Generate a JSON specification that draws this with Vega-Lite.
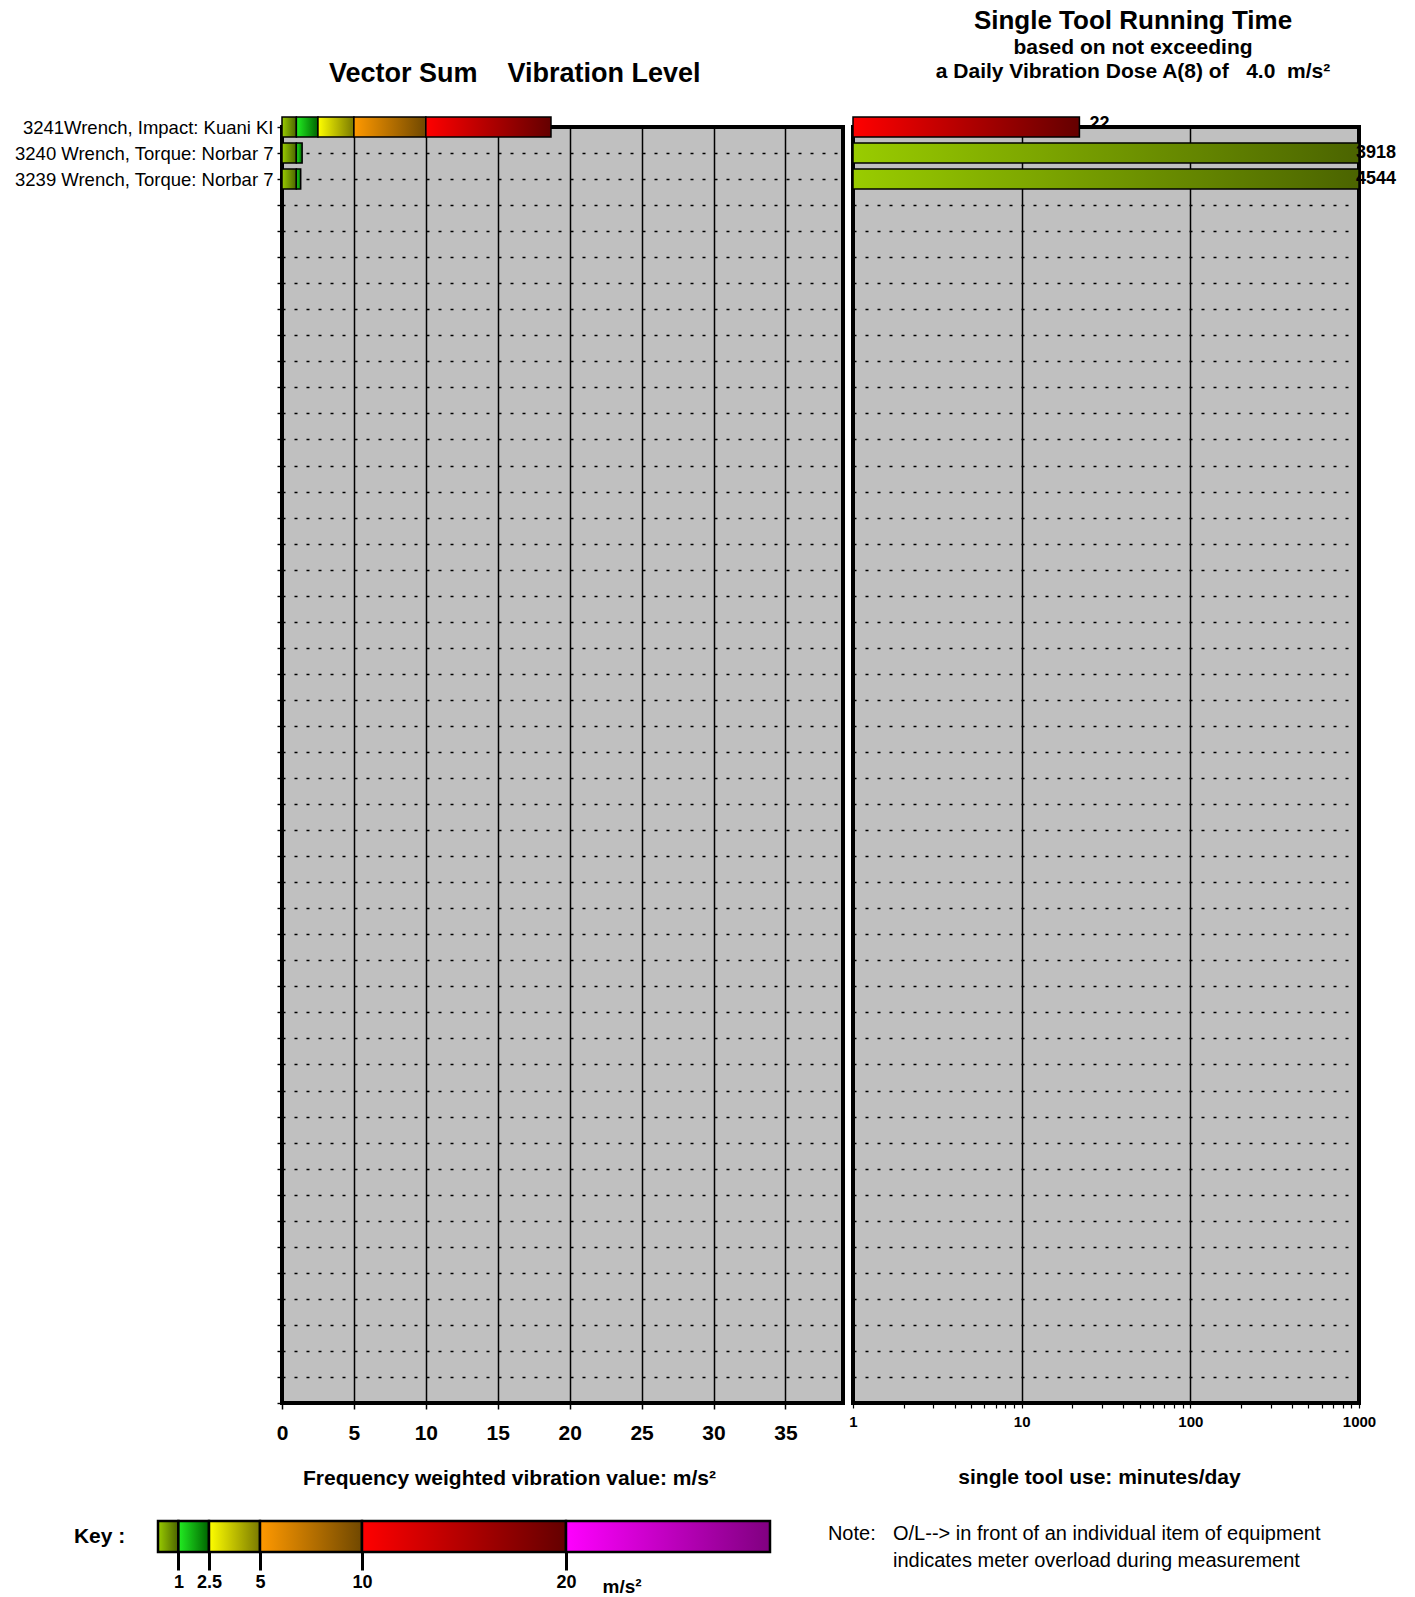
{
  "$schema": "https://vega.github.io/schema/vega-lite/v6.json",
  "background": "white",
  "padding": {"left": 12, "top": 5, "right": 5, "bottom": 2},
  "config": {
    "font": "Liberation Sans",
    "view": {"stroke": null},
    "axis": {"labelColor": "black", "titleColor": "black", "tickColor": "black", "labelFont": "Liberation Sans", "titleFont": "Liberation Sans"},
    "title": {"color": "black", "subtitleColor": "black", "font": "Liberation Sans", "subtitleFont": "Liberation Sans"}
  },
  "datasets": {
    "tools": [
      {"tool": "3241Wrench, Impact: Kuani KI", "vib": 18.7, "minutes": 22},
      {"tool": "3240 Wrench, Torque: Norbar 7", "vib": 1.4, "minutes": 3918},
      {"tool": "3239 Wrench, Torque: Norbar 7", "vib": 1.3, "minutes": 4544}
    ],
    "segments": [
      {"tool": "3241Wrench, Impact: Kuani KI", "from": 0, "to": 1},
      {"tool": "3241Wrench, Impact: Kuani KI", "from": 1, "to": 2.5},
      {"tool": "3241Wrench, Impact: Kuani KI", "from": 2.5, "to": 5},
      {"tool": "3241Wrench, Impact: Kuani KI", "from": 5, "to": 10},
      {"tool": "3241Wrench, Impact: Kuani KI", "from": 10, "to": 18.7},
      {"tool": "3240 Wrench, Torque: Norbar 7", "from": 0, "to": 1},
      {"tool": "3240 Wrench, Torque: Norbar 7", "from": 1, "to": 1.4},
      {"tool": "3239 Wrench, Torque: Norbar 7", "from": 0, "to": 1},
      {"tool": "3239 Wrench, Torque: Norbar 7", "from": 1, "to": 1.3}
    ],
    "key": [
      {"lo": 0, "hi": 1},
      {"lo": 1, "hi": 2.5},
      {"lo": 2.5, "hi": 5},
      {"lo": 5, "hi": 10},
      {"lo": 10, "hi": 20},
      {"lo": 20, "hi": 30}
    ]
  },
  "bounds": "flush",
  "spacing": 1394,
  "vconcat": [
    {
      "bounds": "flush",
      "spacing": 10,
      "hconcat": [
        {
          "width": 114,
          "height": 10,
          "data": {"values": []},
          "mark": {"type": "point", "opacity": 0}
        },
        {
          "width": 561,
          "height": 1276,
          "view": {"fill": "#c0c0c0", "stroke": "black", "strokeWidth": 4},
          "title": {"text": "Vector Sum\u00a0\u00a0\u00a0\u00a0Vibration Level", "anchor": "start", "frame": "group", "dx": 47, "fontSize": 27, "fontWeight": "bold", "offset": 28},
          "data": {"name": "segments"},
          "encoding": {
            "y": {
              "field": "tool", "type": "nominal",
              "scale": {"type": "point", "padding": 0, "domain": ["3241Wrench, Impact: Kuani KI", "3240 Wrench, Torque: Norbar 7", "3239 Wrench, Torque: Norbar 7", "_4", "_5", "_6", "_7", "_8", "_9", "_10", "_11", "_12", "_13", "_14", "_15", "_16", "_17", "_18", "_19", "_20", "_21", "_22", "_23", "_24", "_25", "_26", "_27", "_28", "_29", "_30", "_31", "_32", "_33", "_34", "_35", "_36", "_37", "_38", "_39", "_40", "_41", "_42", "_43", "_44", "_45", "_46", "_47", "_48", "_49", "_50"]},
              "axis": {"title": null, "domain": false, "grid": true, "gridColor": "black", "gridDash": [3, 9], "gridWidth": 1.4, "ticks": true, "tickSize": 5, "tickWidth": 1.4, "labelFontSize": 18.5, "labelPadding": 4, "labelLimit": 0, "labelExpr": "indexof(datum.label, '_') == 0 ? '' : datum.label"}
            }
          },
          "layer": [
            {"transform": [{"filter": "datum.from == 0"}], "mark": {"type": "bar", "size": 20, "fill": {"gradient": "linear", "x1": 0, "y1": 0, "x2": 1, "y2": 0, "stops": [{"offset": 0, "color": "#99cc00"}, {"offset": 1, "color": "#4b6400"}]}, "stroke": "black", "strokeWidth": 1.5},
             "encoding": {
               "x": {"field": "from", "type": "quantitative", "scale": {"domain": [0, 39], "nice": false, "zero": false},
                 "axis": {"values": [0, 5, 10, 15, 20, 25, 30, 35], "format": "d", "grid": true, "gridColor": "black", "gridWidth": 1.5, "domain": false, "tickSize": 6, "tickWidth": 1.5, "labelFontSize": 21, "labelFontWeight": "bold", "labelPadding": 13, "labelFlush": false, "labelOverlap": false, "title": "Frequency weighted vibration value:  m/s\u00b2", "titleFontSize": 21, "titleFontWeight": "bold", "titleX": 227, "titleY": 75, "titleAlign": "center", "titleBaseline": "middle"}},
               "x2": {"field": "to"}}},
            {"transform": [{"filter": "datum.from == 1"}], "mark": {"type": "bar", "size": 20, "fill": {"gradient": "linear", "x1": 0, "y1": 0, "x2": 1, "y2": 0, "stops": [{"offset": 0, "color": "#22ee22"}, {"offset": 1, "color": "#006400"}]}, "stroke": "black", "strokeWidth": 1.5},
             "encoding": {"x": {"field": "from", "type": "quantitative"}, "x2": {"field": "to"}}},
            {"transform": [{"filter": "datum.from == 2.5"}], "mark": {"type": "bar", "size": 20, "fill": {"gradient": "linear", "x1": 0, "y1": 0, "x2": 1, "y2": 0, "stops": [{"offset": 0, "color": "#ffff00"}, {"offset": 1, "color": "#7a7a00"}]}, "stroke": "black", "strokeWidth": 1.5},
             "encoding": {"x": {"field": "from", "type": "quantitative"}, "x2": {"field": "to"}}},
            {"transform": [{"filter": "datum.from == 5"}], "mark": {"type": "bar", "size": 20, "fill": {"gradient": "linear", "x1": 0, "y1": 0, "x2": 1, "y2": 0, "stops": [{"offset": 0, "color": "#ff9900"}, {"offset": 1, "color": "#704800"}]}, "stroke": "black", "strokeWidth": 1.5},
             "encoding": {"x": {"field": "from", "type": "quantitative"}, "x2": {"field": "to"}}},
            {"transform": [{"filter": "datum.from == 10"}], "mark": {"type": "bar", "size": 20, "fill": {"gradient": "linear", "x1": 0, "y1": 0, "x2": 1, "y2": 0, "stops": [{"offset": 0, "color": "#ff0000"}, {"offset": 1, "color": "#640000"}]}, "stroke": "black", "strokeWidth": 1.5},
             "encoding": {"x": {"field": "from", "type": "quantitative"}, "x2": {"field": "to"}}}
          ]
        },
        {
          "width": 506,
          "height": 1276,
          "view": {"fill": "#c0c0c0", "stroke": "black", "strokeWidth": 4},
          "title": {"text": "Single Tool Running Time", "subtitle": ["based on not exceeding", "a Daily Vibration Dose A(8) of\u00a0\u00a0\u00a04.0\u00a0\u00a0m/s\u00b2"], "anchor": "middle", "frame": "group", "dx": 27, "fontSize": 26, "fontWeight": "bold", "subtitleFontSize": 21, "subtitleFontWeight": "bold", "subtitleLineHeight": 24.5, "subtitlePadding": 3, "offset": 33},
          "data": {"name": "tools"},
          "encoding": {
            "y": {
              "field": "tool", "type": "nominal",
              "scale": {"type": "point", "padding": 0, "domain": ["3241Wrench, Impact: Kuani KI", "3240 Wrench, Torque: Norbar 7", "3239 Wrench, Torque: Norbar 7", "_4", "_5", "_6", "_7", "_8", "_9", "_10", "_11", "_12", "_13", "_14", "_15", "_16", "_17", "_18", "_19", "_20", "_21", "_22", "_23", "_24", "_25", "_26", "_27", "_28", "_29", "_30", "_31", "_32", "_33", "_34", "_35", "_36", "_37", "_38", "_39", "_40", "_41", "_42", "_43", "_44", "_45", "_46", "_47", "_48", "_49", "_50"]},
              "axis": {"title": null, "domain": false, "labels": false, "ticks": false, "grid": true, "gridColor": "black", "gridDash": [3, 9], "gridWidth": 1.4, "minExtent": 0}
            }
          },
          "layer": [
            {"transform": [{"filter": "datum.minutes >= 480"}], "mark": {"type": "bar", "size": 20, "fill": {"gradient": "linear", "x1": 0, "y1": 0, "x2": 1, "y2": 0, "stops": [{"offset": 0, "color": "#99cc00"}, {"offset": 1, "color": "#4b6400"}]}, "stroke": "black", "strokeWidth": 1.5},
             "encoding": {
               "x": {"field": "minutes", "type": "quantitative", "scale": {"type": "log", "domain": [1, 1000], "clamp": true, "nice": false},
                 "axis": {"values": [1, 2, 3, 4, 5, 6, 7, 8, 9, 10, 20, 30, 40, 50, 60, 70, 80, 90, 100, 200, 300, 400, 500, 600, 700, 800, 900, 1000], "format": "d", "labelExpr": "(datum.value == 1 || datum.value == 10 || datum.value == 100 || datum.value == 1000) ? datum.label : ''", "grid": true, "gridColor": "black", "gridWidth": 1.5, "gridOpacity": {"condition": {"test": "datum.value == 10 || datum.value == 100", "value": 1}, "value": 0}, "domain": false, "tickSize": 5, "tickWidth": 1.2, "labelFontSize": 15, "labelFontWeight": "bold", "labelPadding": 6, "labelFlush": false, "labelOverlap": false, "title": "single tool use:  minutes/day", "titleFontSize": 21, "titleFontWeight": "bold", "titleX": 246, "titleY": 74, "titleAlign": "center", "titleBaseline": "middle"}}}},
            {"transform": [{"filter": "datum.minutes < 480"}], "mark": {"type": "bar", "size": 20, "fill": {"gradient": "linear", "x1": 0, "y1": 0, "x2": 1, "y2": 0, "stops": [{"offset": 0, "color": "#ff0000"}, {"offset": 1, "color": "#640000"}]}, "stroke": "black", "strokeWidth": 1.5},
             "encoding": {"x": {"field": "minutes", "type": "quantitative"}}},
            {"transform": [{"filter": "datum.minutes < 1000"}], "mark": {"type": "text", "align": "left", "baseline": "middle", "dx": 10, "dy": -3, "fontSize": 18, "fontWeight": "bold", "color": "black"},
             "encoding": {"x": {"field": "minutes", "type": "quantitative"}, "text": {"field": "minutes", "type": "quantitative", "format": "d"}}},
            {"transform": [{"filter": "datum.minutes >= 1000"}], "mark": {"type": "text", "align": "left", "baseline": "middle", "dx": -3, "fontSize": 18, "fontWeight": "bold", "color": "black"},
             "encoding": {"x": {"field": "minutes", "type": "quantitative"}, "text": {"field": "minutes", "type": "quantitative", "format": "d"}}}
          ]
        }
      ]
    },
    {
      "width": 1204,
      "height": 31,
      "view": {"stroke": null},
      "data": {"name": "key"},
      "layer": [
        {"transform": [{"filter": "datum.lo == 0"}], "mark": {"type": "rect", "fill": {"gradient": "linear", "x1": 0, "y1": 0, "x2": 1, "y2": 0, "stops": [{"offset": 0, "color": "#99cc00"}, {"offset": 1, "color": "#4b6400"}]}, "stroke": "black", "strokeWidth": 2.5},
         "encoding": {
           "x": {"field": "lo", "type": "quantitative", "scale": {"domain": [0, 59.02], "nice": false, "zero": false},
             "axis": {"values": [1, 2.5, 5, 10, 20], "labelExpr": "'' + datum.value", "domain": false, "grid": false, "tickSize": 18, "tickWidth": 3, "labelFontSize": 18, "labelFontWeight": "bold", "labelPadding": 3, "labelFlush": false, "labelOverlap": false, "title": "m/s\u00b2", "titleFontSize": 19, "titleFontWeight": "bold", "titleX": 444, "titleY": 34, "titleAlign": "left", "titleBaseline": "middle"}},
           "x2": {"field": "hi"}, "y": {"value": 0}, "y2": {"value": "height"}}},
        {"transform": [{"filter": "datum.lo == 1"}], "mark": {"type": "rect", "fill": {"gradient": "linear", "x1": 0, "y1": 0, "x2": 1, "y2": 0, "stops": [{"offset": 0, "color": "#22ee22"}, {"offset": 1, "color": "#006400"}]}, "stroke": "black", "strokeWidth": 2.5},
         "encoding": {"x": {"field": "lo", "type": "quantitative"}, "x2": {"field": "hi"}, "y": {"value": 0}, "y2": {"value": "height"}}},
        {"transform": [{"filter": "datum.lo == 2.5"}], "mark": {"type": "rect", "fill": {"gradient": "linear", "x1": 0, "y1": 0, "x2": 1, "y2": 0, "stops": [{"offset": 0, "color": "#ffff00"}, {"offset": 1, "color": "#7a7a00"}]}, "stroke": "black", "strokeWidth": 2.5},
         "encoding": {"x": {"field": "lo", "type": "quantitative"}, "x2": {"field": "hi"}, "y": {"value": 0}, "y2": {"value": "height"}}},
        {"transform": [{"filter": "datum.lo == 5"}], "mark": {"type": "rect", "fill": {"gradient": "linear", "x1": 0, "y1": 0, "x2": 1, "y2": 0, "stops": [{"offset": 0, "color": "#ff9900"}, {"offset": 1, "color": "#704800"}]}, "stroke": "black", "strokeWidth": 2.5},
         "encoding": {"x": {"field": "lo", "type": "quantitative"}, "x2": {"field": "hi"}, "y": {"value": 0}, "y2": {"value": "height"}}},
        {"transform": [{"filter": "datum.lo == 10"}], "mark": {"type": "rect", "fill": {"gradient": "linear", "x1": 0, "y1": 0, "x2": 1, "y2": 0, "stops": [{"offset": 0, "color": "#ff0000"}, {"offset": 1, "color": "#640000"}]}, "stroke": "black", "strokeWidth": 2.5},
         "encoding": {"x": {"field": "lo", "type": "quantitative"}, "x2": {"field": "hi"}, "y": {"value": 0}, "y2": {"value": "height"}}},
        {"transform": [{"filter": "datum.lo == 20"}], "mark": {"type": "rect", "fill": {"gradient": "linear", "x1": 0, "y1": 0, "x2": 1, "y2": 0, "stops": [{"offset": 0, "color": "#ff00ff"}, {"offset": 1, "color": "#800080"}]}, "stroke": "black", "strokeWidth": 2.5},
         "encoding": {"x": {"field": "lo", "type": "quantitative"}, "x2": {"field": "hi"}, "y": {"value": 0}, "y2": {"value": "height"}}},
        {"data": {"values": [{"label": "Key :"}]}, "mark": {"type": "text", "align": "left", "baseline": "middle", "fontSize": 21, "fontWeight": "bold", "color": "black"},
         "encoding": {"x": {"datum": -4.12, "type": "quantitative"}, "text": {"field": "label", "type": "nominal"}}},
        {"data": {"values": [{"label": "Note:"}]}, "mark": {"type": "text", "align": "left", "baseline": "middle", "dy": -3, "fontSize": 20, "color": "black"},
         "encoding": {"x": {"datum": 32.84, "type": "quantitative"}, "text": {"field": "label", "type": "nominal"}}},
        {"data": {"values": [{"label": ["O/L-->  in front of an individual item of equipment", "indicates meter overload during measurement"]}]}, "mark": {"type": "text", "align": "left", "baseline": "middle", "dy": -3, "lineHeight": 27.5, "fontSize": 20, "color": "black"},
         "encoding": {"x": {"datum": 36.03, "type": "quantitative"}, "text": {"field": "label", "type": "nominal"}}}
      ]
    }
  ]
}
